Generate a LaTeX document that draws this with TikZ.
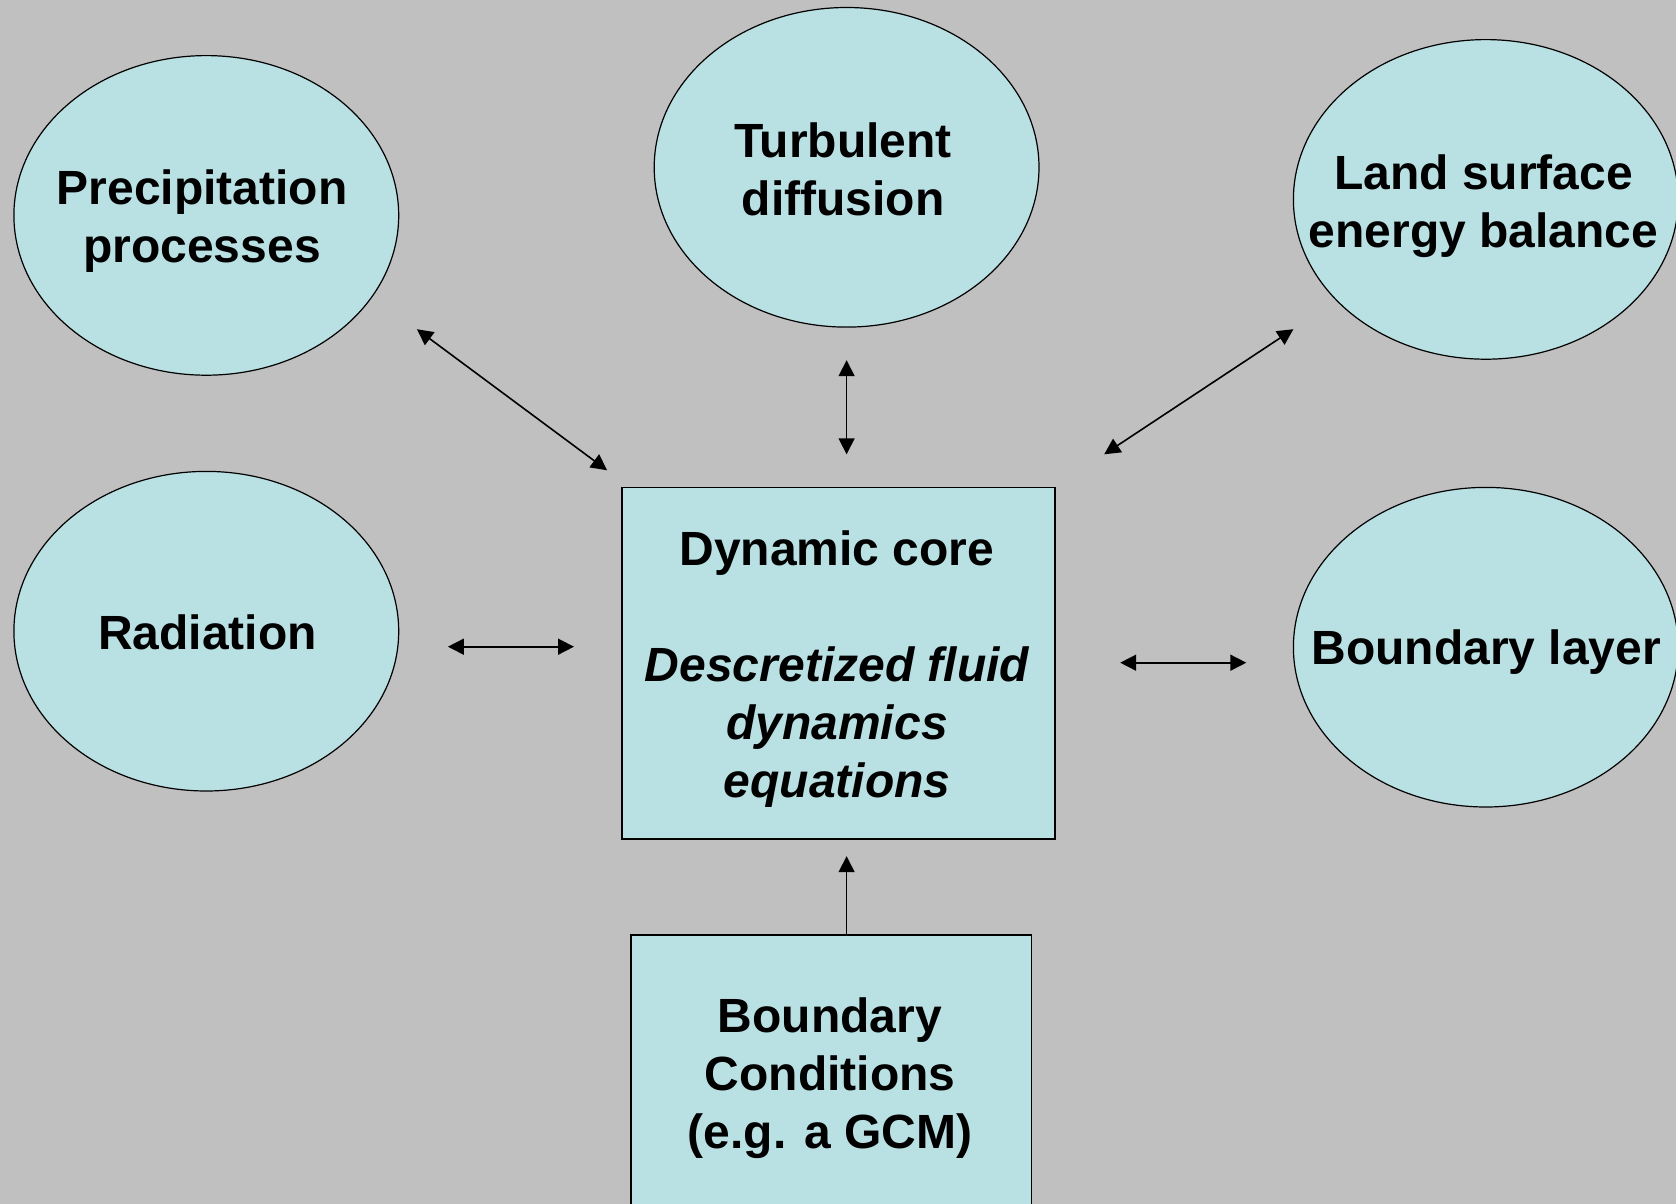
\documentclass[tikz,border=0pt]{standalone}
\usepackage{fontspec}
\setmainfont{Liberation Sans}
\usetikzlibrary{arrows.meta,shapes.geometric}
\definecolor{slidegray}{RGB}{192,192,192}
\definecolor{paleblue}{RGB}{185,224,227}
\tikzset{ %inner sep = 0pt,
  {bubble/.style} ={ellipse,draw,line width=0.6pt,fill=paleblue,
                    minimum width=192.4pt,minimum height=159.8pt,inner sep=0},
  {words/.style} ={font=\fontsize{24}{29}\selectfont\bfseries,
                   align=center,inner sep=0},
  {box/.style} ={rectangle,draw,line width=0.9pt,fill=paleblue,inner sep=0},
  {link/.style} ={line width=0.8pt,
                  {Triangle[length=8pt,width=8pt]}-{Triangle[length=8pt,width=8pt]}},
  {feed/.style} ={line width=0.8pt,-{Triangle[length=8pt,width=8pt]}},
 }

\begin{document}
\begin{tikzpicture}[x=0.5pt,y=-0.5pt]
\useasboundingbox (0,0) rectangle (1676,1204);
\clip (0,0) rectangle (1676,1204);
\fill[slidegray] (0,0) rectangle (1676,1204);
% physics around the core
\node[bubble] (pre) at (206.3,215.4) {};
\node[bubble] (tur) at (846.6,167.3) {};
\node[bubble] (land) at (1485.8,199.4) {};
\node[bubble] (rad) at (206.3,631.2) {};
\node[bubble] (bl) at (1485.8,647.2) {};
\node[words] (pre-t) at (202,221.5) {Precipitation\\processes};
\node[words] (tur-t) at (843,169.4) {Turbulent\\diffusion};
\node[words] (land-t) at (1483.6,206) {Land surface\\energy balance};
\node[words] (rad-t) at (207.4,632.8) {Radiation};
\node[words] (bl-t) at (1486.3,652) {Boundary layer};
% core and its forcing
\node[box,minimum width=216.5pt,minimum height=175.9pt] (dyn) at (838.6,663.3) {};
\node[words] (dyn-t) at (837,669.5) {Dynamic core\\[29pt]
  \itshape Descretized fluid\\\itshape dynamics\\\itshape equations};
\node[box,minimum width=200.4pt,minimum height=137.7pt] (bc) at (831,1073) {};
\node[words] (bc-t) at (830,1078) {Boundary\\Conditions\\(e.g. a GCM)};
% arrow ends
\coordinate (pre-a) at (416.9,329.2);
\coordinate (dyn-pre) at (607.1,470.3);
\coordinate (tur-a) at (846.6,360.2);
\coordinate (dyn-tur) at (846.6,454.3);
\coordinate (land-a) at (1293.4,329.2);
\coordinate (dyn-land) at (1104.2,454.3);
\coordinate (rad-a) at (447.9,646.7);
\coordinate (dyn-rad) at (574.0,646.7);
\coordinate (bl-a) at (1246.3,662.7);
\coordinate (dyn-bl) at (1120.2,662.7);
\coordinate (dyn-bc) at (846.6,856.2);
\path[link] (pre-a) edge (dyn-pre)
            (tur-a) edge (dyn-tur)
            (land-a) edge (dyn-land)
            (rad-a) edge (dyn-rad)
            (bl-a) edge (dyn-bl);
\draw[feed] (bc.north -| dyn-bc) -- (dyn-bc);
\end{tikzpicture}
\end{document}
